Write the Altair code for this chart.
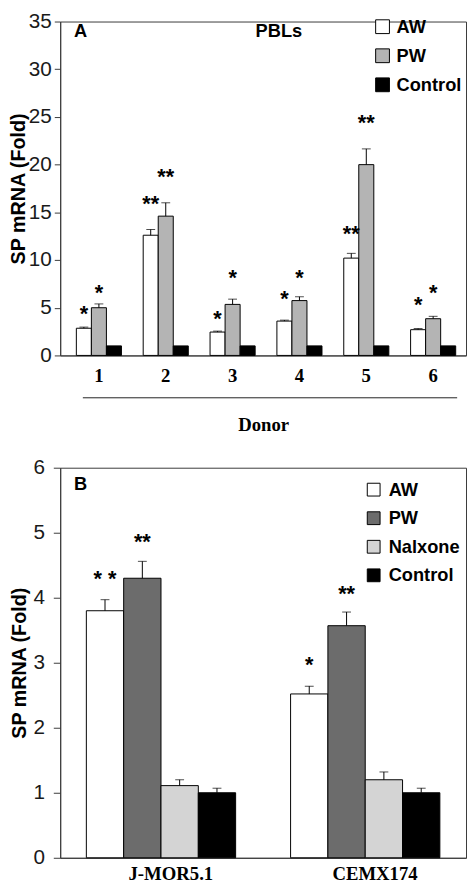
import altair as alt
import pandas as pd

# ---------------- Panel A data (PBLs) ----------------
donors = ["1", "2", "3", "4", "5", "6"]
groups_a = ["AW", "PW", "Control"]
colors_a = ["#ffffff", "#b4b4b4", "#000000"]

a_aw = [2.85, 12.6, 2.45, 3.6, 10.2, 2.7]
a_aw_err = [2.97, 13.2, 2.55, 3.7, 10.7, 2.82]
a_pw = [5.0, 14.6, 5.35, 5.75, 20.0, 3.85]
a_pw_err = [5.4, 16.0, 5.9, 6.15, 21.65, 4.1]
a_ctrl = [1.0, 1.0, 1.0, 1.0, 1.0, 1.0]
a_ctrl_err = [1.0, 1.0, 1.0, 1.0, 1.0, 1.0]

a_aw_star = ["*", "**", "*", "*", "**", "*"]
a_aw_star_y = [4.28, 15.8, 3.74, 5.77, 12.64, 5.16]
a_pw_star = ["*", "**", "*", "*", "**", "*"]
a_pw_star_y = [6.47, 18.6, 8.0, 8.0, 24.2, 6.47]

# ---------------- Panel B data (cell lines) ----------------
cells = ["J-MOR5.1", "CEMX174"]
groups_b = ["AW", "PW", "Nalxone", "Control"]
colors_b = ["#ffffff", "#6c6c6c", "#d4d4d4", "#000000"]

b_aw = [3.8, 2.52]
b_aw_err = [3.97, 2.64]
b_pw = [4.3, 3.57]
b_pw_err = [4.56, 3.78]
b_nal = [1.11, 1.2]
b_nal_err = [1.2, 1.32]
b_ctrl = [1.0, 1.0]
b_ctrl_err = [1.07, 1.07]

b_aw_star = ["* *", "*"]
b_aw_star_y = [4.32, 3.0]
b_pw_star = ["**", "**"]
b_pw_star_y = [4.89, 4.09]

# ---------------- tables ----------------
rows_a = []
for i, d in enumerate(donors):
    for g, v, e in zip(groups_a, [a_aw[i], a_pw[i], a_ctrl[i]], [a_aw_err[i], a_pw_err[i], a_ctrl_err[i]]):
        rows_a.append({"cat": d, "grp": g, "val": v, "err": e})
df_a = pd.DataFrame(rows_a)

srows_a = []
for i, d in enumerate(donors):
    srows_a.append({"cat": d, "grp": "AW", "sy": a_aw_star_y[i], "star": a_aw_star[i]})
    srows_a.append({"cat": d, "grp": "PW", "sy": a_pw_star_y[i], "star": a_pw_star[i]})
sdf_a = pd.DataFrame(srows_a)

rows_b = []
for i, c in enumerate(cells):
    for g, v, e in zip(groups_b, [b_aw[i], b_pw[i], b_nal[i], b_ctrl[i]],
                       [b_aw_err[i], b_pw_err[i], b_nal_err[i], b_ctrl_err[i]]):
        rows_b.append({"cat": c, "grp": g, "val": v, "err": e})
df_b = pd.DataFrame(rows_b)

srows_b = []
for i, c in enumerate(cells):
    srows_b.append({"cat": c, "grp": "AW", "sy": b_aw_star_y[i], "star": b_aw_star[i]})
    srows_b.append({"cat": c, "grp": "PW", "sy": b_pw_star_y[i], "star": b_pw_star[i]})
sdf_b = pd.DataFrame(srows_b)

SANS = "Liberation Sans"
SERIF = "Liberation Serif"
AXC = "#3a3a3a"


def legend(x, y, size, rowpad, off):
    return alt.Legend(title=None, orient="none", legendX=x, legendY=y, symbolType="square",
                      symbolSize=size, symbolStrokeColor="black", symbolStrokeWidth=1,
                      labelFont=SANS, labelFontWeight="bold", labelFontSize=18.5, labelColor="black",
                      rowPadding=rowpad, labelOffset=off, padding=0, symbolOpacity=1)


def panel(df, sdf, cats, groups, colors, xscale, xaxis, ymax, yvals, yaxis_extra, leg, letter, lab_y,
          star_dy, W, H, extra_layers):
    x = alt.X("cat:N", sort=cats, scale=xscale, axis=xaxis)
    xo = alt.XOffset("grp:N", sort=groups, scale=alt.Scale(domain=groups, paddingInner=0, paddingOuter=0))
    y = alt.Y("val:Q", scale=alt.Scale(domain=[0, ymax], nice=False),
              axis=alt.Axis(values=yvals, format="d", title="SP mRNA (Fold)", grid=False, labelFont=SANS,
                            labelFontSize=21, labelColor="#1a1a1a", titleFont=SANS, titleFontSize=20,
                            titleFontWeight="bold", titleColor="black", domainColor=AXC, tickColor=AXC,
                            **yaxis_extra))
    bars = alt.Chart(df).mark_bar(stroke="black", strokeWidth=1).encode(
        x=x, xOffset=xo, y=y,
        fill=alt.Fill("grp:N", sort=groups, scale=alt.Scale(domain=groups, range=colors), legend=leg))
    errs = alt.Chart(df).transform_filter("datum.err > datum.val").mark_rule(color="black", strokeWidth=1).encode(
        x=x, xOffset=xo, y="val:Q", y2="err:Q")
    caps = alt.Chart(df).transform_filter("datum.err > datum.val").mark_tick(color="black", size=9, thickness=1).encode(
        x=x, xOffset=xo, y="err:Q")
    stars = alt.Chart(sdf).mark_text(font=SANS, fontWeight="bold", fontSize=22, baseline="alphabetic",
                                     dy=star_dy, color="black").encode(
        x=x, xOffset=xo, y=alt.Y("sy:Q"), text="star:N")
    lab = alt.Chart(pd.DataFrame({"t": [letter]})).mark_text(
        font=SANS, fontWeight="bold", fontSize=18.5, align="left", baseline="middle", color="black").encode(
        x=alt.value(14), y=alt.value(lab_y), text="t:N")
    return alt.layer(bars, errs, caps, stars, lab, *extra_layers).properties(width=W, height=H)


W = 412

# ---- Panel A ----
xscale_a = alt.Scale(paddingInner=0.3255, paddingOuter=0.198, align=0.61)
xaxis_a = alt.Axis(title="Donor", labelAngle=0, ticks=False, labelPadding=11, titlePadding=31,
                   labelFont=SERIF, labelFontWeight="bold", labelFontSize=19, labelColor="black",
                   titleFont=SERIF, titleFontWeight="bold", titleFontSize=19, titleColor="black",
                   domainColor=AXC, labelBaseline="top")
pbl = alt.Chart(pd.DataFrame({"t": ["PBLs"]})).mark_text(
    font=SANS, fontWeight="bold", fontSize=18.5, align="center", baseline="middle", color="black").encode(
    x=alt.value(222), y=alt.value(10), text="t:N")
donor_line = alt.Chart(pd.DataFrame({"t": [0]})).mark_rule(color="#222222", strokeWidth=1).encode(
    x=alt.value(23), x2=alt.value(403), y=alt.value(382))

chart_a = panel(df_a, sdf_a, donors, groups_a, colors_a, xscale_a, xaxis_a, 35, list(range(0, 36, 5)),
                {"tickSize": 6, "labelPadding": 3, "titlePadding": 0},
                legend(318, -4, 196, 10.5, 5), "A", 10, 6, W, 339, [pbl, donor_line])

# ---- Panel B ----
xscale_b = alt.Scale(paddingInner=0.269, paddingOuter=0.128, align=0.5)
xaxis_b = alt.Axis(title=None, labelAngle=0, ticks=False, labelPadding=7, labelOffset=10,
                   labelFont=SERIF, labelFontWeight="bold", labelFontSize=19, labelColor="black",
                   domainColor=AXC, labelBaseline="top")
chart_b = panel(df_b, sdf_b, cells, groups_b, colors_b, xscale_b, xaxis_b, 6, list(range(0, 7)),
                {"tickSize": 7, "labelPadding": 9, "titlePadding": 4},
                legend(309, 13, 169, 10, 6), "B", 17, 9, W, 396, [])

chart = alt.vconcat(chart_a, chart_b, spacing=21,
                    padding={"left": 0, "top": -5, "right": 0, "bottom": 0}).resolve_scale(
    fill="independent", x="independent", y="independent", xOffset="independent"
).configure_view(
    stroke=AXC, strokeWidth=1
).configure_axis(grid=False)

chart.save("out.html", embed_options={"renderer": "svg", "actions": False})
